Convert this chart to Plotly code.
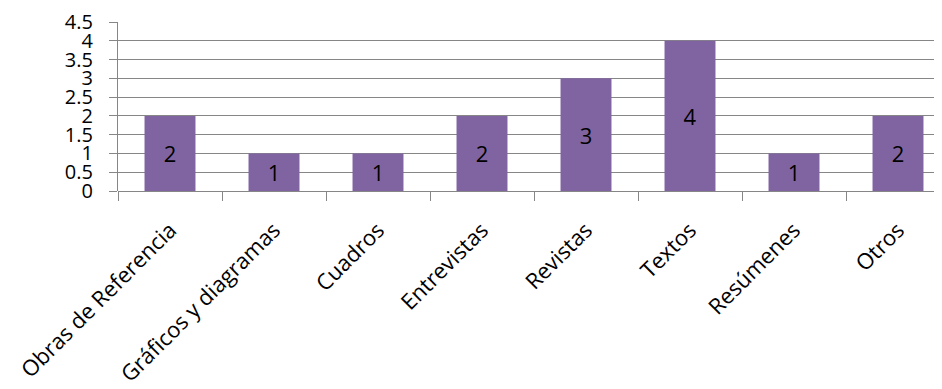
import plotly.graph_objects as go

categories = ["Obras de Referencia", "Gráficos y diagramas", "Cuadros", "Entrevistas",
              "Revistas", "Textos", "Resúmenes", "Otros"]
values = [2, 1, 1, 2, 3, 4, 1, 2]
y_ticks = [0, 0.5, 1, 1.5, 2, 2.5, 3, 3.5, 4, 4.5]
y_tick_labels = ["0", "0.5", "1", "1.5", "2", "2.5", "3", "3.5", "4", "4.5"]

FONT = "Open Sans, Noto Sans, sans-serif"
GRID = "#868686"

fig = go.Figure(go.Bar(
    x=categories, y=values,
    marker=dict(color="#8064A2", line=dict(width=0)),
    text=[str(v) for v in values],
    textposition="inside", insidetextanchor="middle",
    textfont=dict(family=FONT, size=22, color="black"),
    cliponaxis=False,
))

# the page body adds an 8px offset; margins compensate for it
fig.update_layout(
    width=942, height=389,
    margin=dict(l=110, r=0, t=14, b=206, autoexpand=False),
    paper_bgcolor="white", plot_bgcolor="white",
    bargap=0.51,
    showlegend=False,
    font=dict(family=FONT, size=19, color="black"),
    uniformtext=dict(mode=False),
)
fig.update_xaxes(
    type="category",
    range=[-0.5, 7.5],
    tickson="boundaries",
    ticks="outside", ticklen=9, tickwidth=1.3, tickcolor=GRID,
    tickangle=-45,
    showline=False, showgrid=False, zeroline=False,
    tickfont=dict(family=FONT, size=22, color="black"),
    ticklabelstandoff=21,
    automargin=False,
)
fig.update_yaxes(
    range=[0, 4.5],
    tickvals=y_ticks, ticktext=y_tick_labels,
    ticks="outside", ticklen=8, tickwidth=1.3, tickcolor=GRID,
    showline=True, linecolor=GRID, linewidth=1.3,
    showgrid=True, gridcolor=GRID, gridwidth=1.3,
    zeroline=True, zerolinecolor=GRID, zerolinewidth=1.3,
    tickfont=dict(family=FONT, size=20, color="black"),
    ticklabelstandoff=12,
    automargin=False,
)

fig.write_html("out.html")
